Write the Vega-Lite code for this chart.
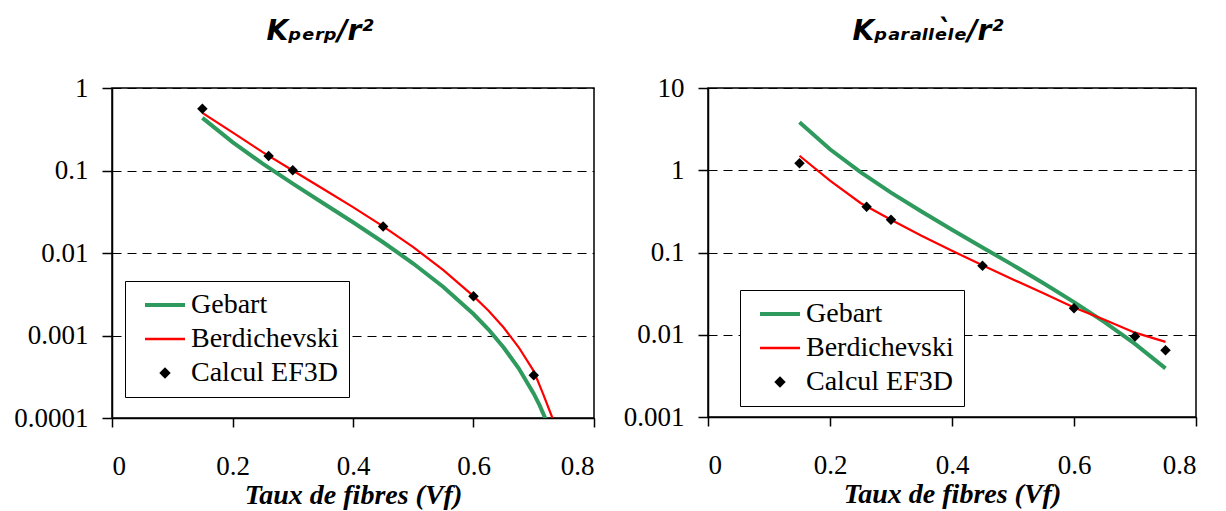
{
  "$schema": "https://vega.github.io/schema/vega-lite/v6.json",
  "background": "white",
  "padding": {"left": 13, "top": 17, "right": 5, "bottom": 0},
  "spacing": 26,
  "resolve": {"scale": {"color": "independent", "strokeWidth": "independent"}, "legend": {"color": "independent"}},
  "config": {
    "view": {"stroke": "black", "strokeWidth": 1.5},
    "axis": {
      "domainColor": "black", "domainWidth": 1.5,
      "tickColor": "black", "tickWidth": 1.5,
      "labelFont": "serif", "labelFontSize": 27, "labelColor": "black",
      "titleFont": "serif", "titleFontSize": 28, "titleFontWeight": "bold", "titleFontStyle": "italic", "titleColor": "black"
    },
    "axisX": {"grid": false, "tickSize": 9, "labelPadding": 26, "titlePadding": 2, "format": "~g"},
    "axisY": {"grid": true, "gridColor": "black", "gridDash": [9, 6], "gridWidth": 1.2, "gridOpacity": 1, "tickSize": 10, "labelPadding": 14, "title": null},
    "title": {"font": "DejaVu Sans", "fontSize": 28, "fontWeight": "bold", "fontStyle": "italic", "color": "black"},
    "legend": {
      "orient": "none", "title": null,
      "strokeColor": "black", "fillColor": "white", "padding": 10,
      "rowPadding": 6, "labelFont": "serif", "labelFontSize": 28, "labelColor": "black",
      "symbolType": "M-2,0H2", "symbolSize": 400, "symbolOffset": 16, "labelOffset": 12
    }
  },
  "datasets": {
    "perp": [
      {"vf": 0.15, "k": 0.435, "series": "Gebart"},
      {"vf": 0.2, "k": 0.221, "series": "Gebart"},
      {"vf": 0.25, "k": 0.121, "series": "Gebart"},
      {"vf": 0.3, "k": 0.0693, "series": "Gebart"},
      {"vf": 0.35, "k": 0.0404, "series": "Gebart"},
      {"vf": 0.4, "k": 0.0236, "series": "Gebart"},
      {"vf": 0.45, "k": 0.0135, "series": "Gebart"},
      {"vf": 0.5, "k": 0.00746, "series": "Gebart"},
      {"vf": 0.55, "k": 0.00388, "series": "Gebart"},
      {"vf": 0.6, "k": 0.00182, "series": "Gebart"},
      {"vf": 0.625, "k": 0.00118, "series": "Gebart"},
      {"vf": 0.65, "k": 0.000716, "series": "Gebart"},
      {"vf": 0.675, "k": 0.000401, "series": "Gebart"},
      {"vf": 0.7, "k": 0.000197, "series": "Gebart"},
      {"vf": 0.71, "k": 0.000141, "series": "Gebart"},
      {"vf": 0.72, "k": 0.0000959, "series": "Gebart"},
      {"vf": 0.15, "k": 0.5, "series": "Berdichevski"},
      {"vf": 0.2, "k": 0.29, "series": "Berdichevski"},
      {"vf": 0.25, "k": 0.167, "series": "Berdichevski"},
      {"vf": 0.3, "k": 0.1, "series": "Berdichevski"},
      {"vf": 0.35, "k": 0.06, "series": "Berdichevski"},
      {"vf": 0.4, "k": 0.036, "series": "Berdichevski"},
      {"vf": 0.45, "k": 0.021, "series": "Berdichevski"},
      {"vf": 0.5, "k": 0.0118, "series": "Berdichevski"},
      {"vf": 0.55, "k": 0.0062, "series": "Berdichevski"},
      {"vf": 0.6, "k": 0.003, "series": "Berdichevski"},
      {"vf": 0.625, "k": 0.002, "series": "Berdichevski"},
      {"vf": 0.65, "k": 0.00125, "series": "Berdichevski"},
      {"vf": 0.675, "k": 0.00072, "series": "Berdichevski"},
      {"vf": 0.7, "k": 0.00037, "series": "Berdichevski"},
      {"vf": 0.715, "k": 0.0002, "series": "Berdichevski"},
      {"vf": 0.731, "k": 0.0001, "series": "Berdichevski"},
      {"vf": 0.15, "k": 0.56, "series": "Calcul EF3D"},
      {"vf": 0.26, "k": 0.15, "series": "Calcul EF3D"},
      {"vf": 0.3, "k": 0.101, "series": "Calcul EF3D"},
      {"vf": 0.45, "k": 0.021, "series": "Calcul EF3D"},
      {"vf": 0.6, "k": 0.003, "series": "Calcul EF3D"},
      {"vf": 0.7, "k": 0.00033, "series": "Calcul EF3D"}
    ],
    "para": [
      {"vf": 0.15, "k": 3.83, "series": "Gebart"},
      {"vf": 0.2, "k": 1.797, "series": "Gebart"},
      {"vf": 0.25, "k": 0.948, "series": "Gebart"},
      {"vf": 0.3, "k": 0.535, "series": "Gebart"},
      {"vf": 0.35, "k": 0.3147, "series": "Gebart"},
      {"vf": 0.4, "k": 0.1895, "series": "Gebart"},
      {"vf": 0.45, "k": 0.1153, "series": "Gebart"},
      {"vf": 0.5, "k": 0.0702, "series": "Gebart"},
      {"vf": 0.55, "k": 0.0423, "series": "Gebart"},
      {"vf": 0.6, "k": 0.02496, "series": "Gebart"},
      {"vf": 0.65, "k": 0.01425, "series": "Gebart"},
      {"vf": 0.7, "k": 0.00774, "series": "Gebart"},
      {"vf": 0.75, "k": 0.0039, "series": "Gebart"},
      {"vf": 0.15, "k": 1.5, "series": "Berdichevski"},
      {"vf": 0.2, "k": 0.75, "series": "Berdichevski"},
      {"vf": 0.25, "k": 0.4, "series": "Berdichevski"},
      {"vf": 0.3, "k": 0.25, "series": "Berdichevski"},
      {"vf": 0.35, "k": 0.16, "series": "Berdichevski"},
      {"vf": 0.4, "k": 0.105, "series": "Berdichevski"},
      {"vf": 0.45, "k": 0.07, "series": "Berdichevski"},
      {"vf": 0.5, "k": 0.047, "series": "Berdichevski"},
      {"vf": 0.55, "k": 0.032, "series": "Berdichevski"},
      {"vf": 0.6, "k": 0.0215, "series": "Berdichevski"},
      {"vf": 0.65, "k": 0.0152, "series": "Berdichevski"},
      {"vf": 0.7, "k": 0.0106, "series": "Berdichevski"},
      {"vf": 0.75, "k": 0.0082, "series": "Berdichevski"},
      {"vf": 0.15, "k": 1.22, "series": "Calcul EF3D"},
      {"vf": 0.26, "k": 0.36, "series": "Calcul EF3D"},
      {"vf": 0.3, "k": 0.25, "series": "Calcul EF3D"},
      {"vf": 0.45, "k": 0.069, "series": "Calcul EF3D"},
      {"vf": 0.6, "k": 0.021, "series": "Calcul EF3D"},
      {"vf": 0.7, "k": 0.0095, "series": "Calcul EF3D"},
      {"vf": 0.75, "k": 0.0065, "series": "Calcul EF3D"}
    ]
  },
  "hconcat": [
    {
      "width": 482, "height": 330,
      "title": {"text": "Kₚₑᵣₚ/r²", "dx": -33, "offset": 28},
      "data": {"name": "perp"},
      "layer": [
        {
          "transform": [{"filter": "datum.series !== 'Calcul EF3D'"}],
          "mark": {"type": "line", "clip": true},
          "encoding": {
            "x": {"field": "vf", "type": "quantitative", "scale": {"domain": [0, 0.8], "nice": false}, "axis": {"values": [0, 0.2, 0.4, 0.6, 0.8], "title": "Taux de fibres (Vf)"}},
            "y": {"field": "k", "type": "quantitative", "scale": {"type": "log", "domain": [0.0001, 1], "nice": false}, "axis": {"values": [0.0001, 0.001, 0.01, 0.1, 1], "format": "~g"}},
            "color": {"field": "series", "type": "nominal", "scale": {"domain": ["Gebart", "Berdichevski", "Calcul EF3D"], "range": ["#2f9a5e", "#ff0000", "#000000"]},
              "legend": {"legendX": 13, "legendY": 193,
                "encode": {"symbols": {"update": {
                  "shape": {"signal": "datum.value === 'Calcul EF3D' ? 'diamond' : 'M-2,0H2'"},
                  "size": {"signal": "datum.value === 'Calcul EF3D' ? 130 : 400"},
                  "fill": {"signal": "datum.value === 'Calcul EF3D' ? 'black' : 'transparent'"},
                  "stroke": {"signal": "datum.value === 'Gebart' ? '#2f9a5e' : datum.value === 'Berdichevski' ? '#ff0000' : 'black'"},
                  "strokeWidth": {"signal": "datum.value === 'Gebart' ? 4 : datum.value === 'Berdichevski' ? 2.5 : 0"},
                  "opacity": {"value": 1}
                }}}}},
            "strokeWidth": {"field": "series", "type": "nominal", "scale": {"domain": ["Gebart", "Berdichevski"], "range": [4, 2.2]}, "legend": null}
          }
        },
        {
          "transform": [{"filter": "datum.series === 'Calcul EF3D'"}],
          "mark": {"type": "point", "shape": "diamond", "filled": true, "size": 110, "opacity": 1},
          "encoding": {
            "x": {"field": "vf", "type": "quantitative"},
            "y": {"field": "k", "type": "quantitative"},
            "color": {"field": "series", "type": "nominal"}
          }
        }
      ]
    },
    {
      "width": 488, "height": 329,
      "title": {"text": "Kₚₐᵣₐₗₗₑ̀ₗₑ/r²", "dx": -24, "offset": 28},
      "data": {"name": "para"},
      "layer": [
        {
          "transform": [{"filter": "datum.series !== 'Calcul EF3D'"}],
          "mark": {"type": "line", "clip": true},
          "encoding": {
            "x": {"field": "vf", "type": "quantitative", "scale": {"domain": [0, 0.8], "nice": false}, "axis": {"values": [0, 0.2, 0.4, 0.6, 0.8], "title": "Taux de fibres (Vf)"}},
            "y": {"field": "k", "type": "quantitative", "scale": {"type": "log", "domain": [0.001, 10], "nice": false}, "axis": {"values": [0.001, 0.01, 0.1, 1, 10], "format": "~g"}},
            "color": {"field": "series", "type": "nominal", "scale": {"domain": ["Gebart", "Berdichevski", "Calcul EF3D"], "range": ["#2f9a5e", "#ff0000", "#000000"]},
              "legend": {"legendX": 32, "legendY": 202,
                "encode": {"symbols": {"update": {
                  "shape": {"signal": "datum.value === 'Calcul EF3D' ? 'diamond' : 'M-2,0H2'"},
                  "size": {"signal": "datum.value === 'Calcul EF3D' ? 130 : 400"},
                  "fill": {"signal": "datum.value === 'Calcul EF3D' ? 'black' : 'transparent'"},
                  "stroke": {"signal": "datum.value === 'Gebart' ? '#2f9a5e' : datum.value === 'Berdichevski' ? '#ff0000' : 'black'"},
                  "strokeWidth": {"signal": "datum.value === 'Gebart' ? 4 : datum.value === 'Berdichevski' ? 2.5 : 0"},
                  "opacity": {"value": 1}
                }}}}},
            "strokeWidth": {"field": "series", "type": "nominal", "scale": {"domain": ["Gebart", "Berdichevski"], "range": [4, 2.2]}, "legend": null}
          }
        },
        {
          "transform": [{"filter": "datum.series === 'Calcul EF3D'"}],
          "mark": {"type": "point", "shape": "diamond", "filled": true, "size": 110, "opacity": 1},
          "encoding": {
            "x": {"field": "vf", "type": "quantitative"},
            "y": {"field": "k", "type": "quantitative"},
            "color": {"field": "series", "type": "nominal"}
          }
        }
      ]
    }
  ]
}
